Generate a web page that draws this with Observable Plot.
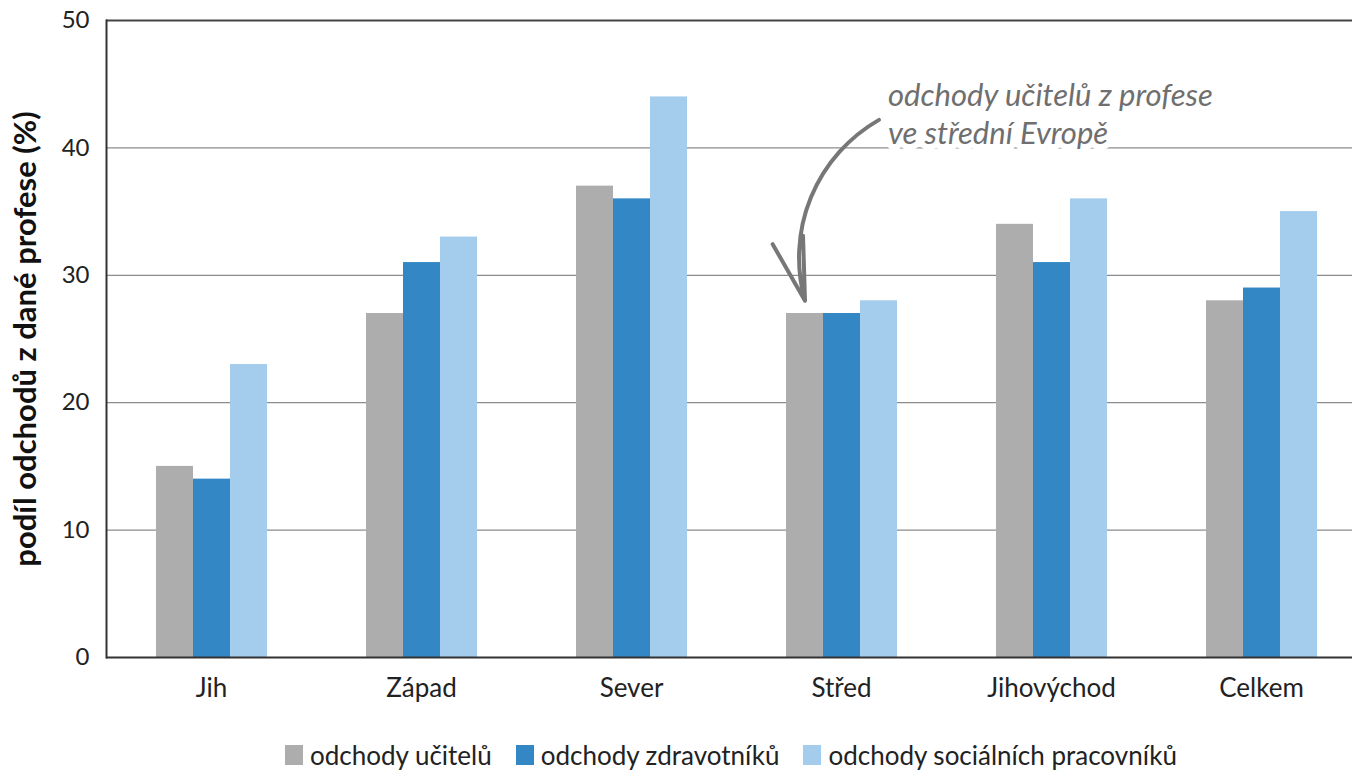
<!DOCTYPE html>
<html><head><meta charset="utf-8">
<script src="https://cdn.jsdelivr.net/npm/d3@7"></script>
<script src="https://cdn.jsdelivr.net/npm/@observablehq/plot@0.6"></script>
<style>
body{margin:0;background:#fff;font-family:Lato,"Noto Sans",sans-serif;overflow:hidden;}
#chart svg{display:block;}
#legend{display:flex;justify-content:center;align-items:center;margin-top:15px;padding-left:110px;font-size:26px;color:#222;height:30px;line-height:30px;}
#legend .item{display:flex;align-items:center;margin:0 12px;}
#legend .sw{width:18px;height:20px;margin-right:7px;}
</style></head><body><div id="chart"></div><div id="legend"></div>
<script>
const regions = ["Jih","Západ","Sever","Střed","Jihovýchod","Celkem"];
const series = ["odchody učitelů","odchody zdravotníků","odchody sociálních pracovníků"];
const teachers = [15,27,37,27,34,28];
const health = [14,31,36,27,31,29];
const social = [23,33,44,28,36,35];
const colors = ["#adadad","#3387c4","#a3cced"];
const yTicks = [0,10,20,30,40,50];
const yLabel = "podíl odchodů z dané profese (%)";
const annotationLines = ["odchody učitelů z profese","ve střední Evropě"];
const annotation = [{region:"Střed", from:series[2], to:series[0], textY:45.4, y1:42.2, y2:28.0}];

const values = [teachers, health, social];
const data = regions.flatMap((r,i)=>series.map((s,j)=>({region:r, series:s, value:values[j][i]})));

const chart = Plot.plot({
  width:1352, height:725,
  marginLeft:105, marginRight:-14, marginTop:20, marginBottom:68,
  style:{fontFamily:"Lato, 'Noto Sans', sans-serif", fontSize:"26px", color:"#222", background:"white", overflow:"visible"},
  fx:{domain:regions, padding:0, label:null, axis:"bottom", tickSize:0, tickPadding:21},
  x:{domain:series, paddingInner:0, paddingOuter:1.32, axis:null},
  y:{domain:[0,50], axis:null},
  color:{domain:series, range:colors},
  marks:[
    Plot.ruleY(yTicks.filter(t=>t>0 && t<50), {stroke:"#8c8c8c", strokeWidth:1.3}),
    Plot.ruleY([50], {stroke:"#444", strokeWidth:1.8}),
    Plot.barY(data, {fx:"region", x:"series", y:"value", fill:"series"}),
    Plot.ruleY([0], {stroke:"#333", strokeWidth:2}),
    Plot.frame({anchor:"left", facetAnchor:"left", stroke:"#333", strokeWidth:2}),
    Plot.axisY({ticks:yTicks, tickSize:0, tickPadding:17, fontSize:24, label:null, facetAnchor:"left"}),
    Plot.text([yLabel], {frameAnchor:"left", textAnchor:"middle", rotate:-90, dx:-80, fontWeight:"bold", fontSize:31, fill:"#111", facetAnchor:"left"}),
    Plot.text(annotation, {fx:"region", x:"from", y:"textY", text:()=>annotationLines.join("\n"), textAnchor:"start", lineAnchor:"top", dx:9, lineHeight:1.22, fontSize:31, fontStyle:"italic", fill:"#6f6f6f", stroke:"white", strokeWidth:12}),
    Plot.arrow(annotation, {fx:"region", x1:"from", y1:"y1", x2:"to", y2:"y2", bend:-38, stroke:"#777", strokeWidth:4, headLength:40, headAngle:28})
  ]
});
document.getElementById("chart").appendChild(chart);

const legend = document.getElementById("legend");
series.forEach((s,i)=>{
  const it = document.createElement("div"); it.className="item";
  const sw = document.createElement("div"); sw.className="sw"; sw.style.background=colors[i];
  const tx = document.createElement("span"); tx.textContent=s;
  it.appendChild(sw); it.appendChild(tx); legend.appendChild(it);
});
</script></body></html>
